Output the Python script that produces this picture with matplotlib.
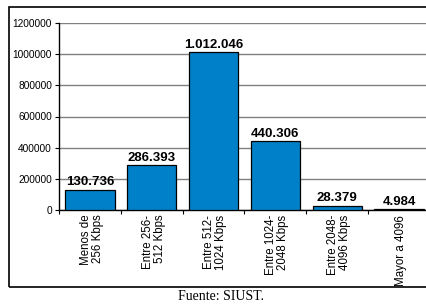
import matplotlib
matplotlib.use("Agg")
import matplotlib.pyplot as plt
from matplotlib.patches import Rectangle

categorias = ["Menos de\n256 Kbps", "Entre 256-\n512 Kbps", "Entre 512-\n1024 Kbps",
              "Entre 1024-\n2048 Kbps", "Entre 2048-\n4096 Kbps", "Mayor a 4096"]
valores = [130736, 286393, 1012046, 440306, 28379, 4984]
etiquetas = ["130.736", "286.393", "1.012.046", "440.306", "28.379", "4.984"]
yticks = [0, 200000, 400000, 600000, 800000, 1000000, 1200000]

plt.rcParams['font.family'] = ['Liberation Sans', 'DejaVu Sans']

fig = plt.figure(figsize=(4.27, 3.05), dpi=100)
# marco exterior (recortado a la derecha como en el original)
fig.patches.append(Rectangle((9/427, 1-287/305), 1.0, (287-7)/305, transform=fig.transFigure,
                             fill=False, edgecolor="black", linewidth=1.2, clip_on=False))

ax = fig.add_axes([59/427, 1-210/305, (430-59)/427, (210-23)/305])
x = range(len(valores))
ax.bar(x, valores, width=0.8, color="#0080c8", edgecolor="black", linewidth=0.9, zorder=3)
for i, v in enumerate(valores):
    ax.text(i, v + 8000, etiquetas[i], ha="center", va="bottom", fontsize=9.5,
            fontweight="bold", zorder=4)

ax.set_xlim(-0.5, len(valores) - 0.5)
ax.set_ylim(0, 1200000)
ax.set_yticks(yticks)
ax.set_yticklabels([str(t) for t in yticks], fontsize=7.3)
ax.yaxis.grid(True, color="#808080", linewidth=1.0, zorder=0)
ax.set_axisbelow(True)

ax.set_xticks([i - 0.5 for i in range(len(valores) + 1)])
ax.set_xticklabels([])
ax.tick_params(axis="both", direction="out", length=3, width=0.8, pad=2)
for i, c in enumerate(categorias):
    ax.text(i + 0.03, -0.025, c, transform=ax.get_xaxis_transform(), rotation=90, ha="center",
            va="top", multialignment="right", fontsize=8.3, linespacing=1.0)

for s in ["top", "right"]:
    ax.spines[s].set_visible(False)
ax.spines["left"].set_linewidth(1.0)
ax.spines["bottom"].set_linewidth(1.0)

fig.text(221/427, 1-297/305, "Fuente: SIUST.", ha="center", va="center",
         fontsize=10, family=["Liberation Serif", "DejaVu Serif"])

fig.savefig("out.png", dpi=100)
